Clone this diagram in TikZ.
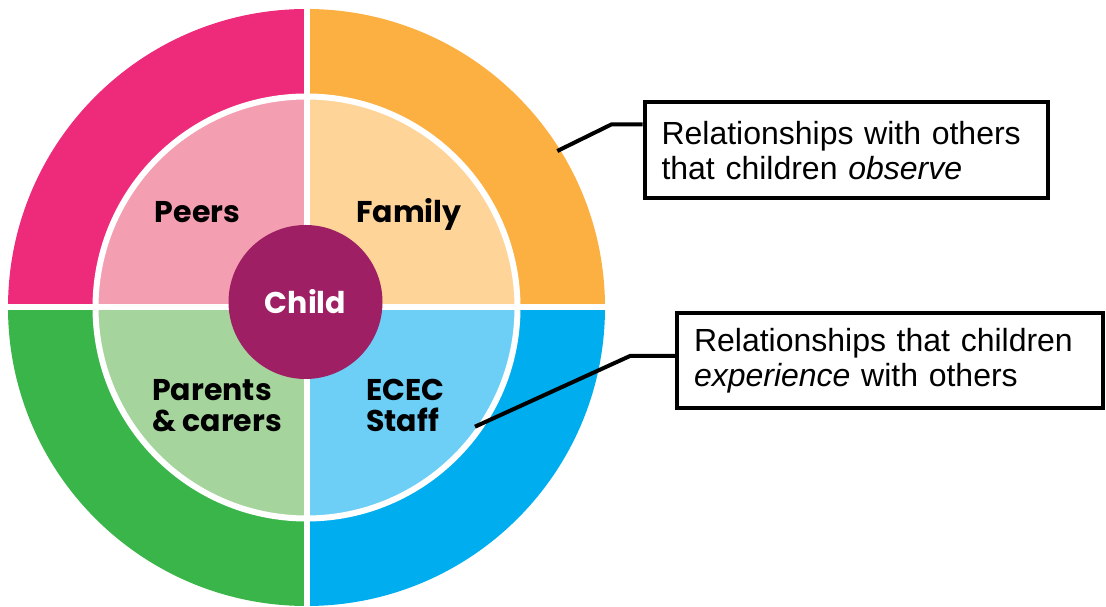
\documentclass[tikz,border=0pt]{standalone}
\usepackage{fontspec}
\setmainfont{Liberation Sans}
\newfontfamily\wheelfont{Poppins}
\definecolor{peersdark}{HTML}{EE2A7B}
\definecolor{peerslight}{HTML}{F49EB1}
\definecolor{familydark}{HTML}{FBB041}
\definecolor{familylight}{HTML}{FED499}
\definecolor{parentsdark}{HTML}{3AB54A}
\definecolor{parentslight}{HTML}{A6D49D}
\definecolor{staffdark}{HTML}{00AEEF}
\definecolor{stafflight}{HTML}{6DCFF6}
\definecolor{childcol}{HTML}{9E1F63}
\begin{document}
\begin{tikzpicture}[x=1pt, y=1pt,
		wheellabel/.style={font=\wheelfont\bfseries\fontsize{30}{31}\selectfont, align=left, inner sep=0pt},
		callout/.style={draw, line width=4pt, font=\fontsize{32}{35}\selectfont, align=left, inner xsep=17pt, inner ysep=0pt},
		leader/.style={line width=4pt, line join=round}]
		\useasboundingbox (0,0) rectangle (1106,607);
		% wheel
		\def \Rout{298.5}; %outer ring
		\def \Rin{211}; %inner ring
		\coordinate[] (origin) at (306.5, 299.5);
		\foreach \a/\c in {90/peersdark, 0/familydark, 180/parentsdark, 270/staffdark}
			\fill[\c] (origin) -- ++(\a:\Rout) arc[start angle=\a, delta angle=90, radius=\Rout] -- cycle;
		\foreach \a/\c in {90/peerslight, 0/familylight, 180/parentslight, 270/stafflight}
			\fill[\c] (origin) -- ++(\a:\Rin) arc[start angle=\a, delta angle=90, radius=\Rin] -- cycle;
		\draw[white, line width=6pt] (origin) circle[radius=\Rin];
		\draw[white, line width=6pt] (306.5, 0) -- (306.5, 607);
		\draw[white, line width=6pt] (0, 299.5) -- (610, 299.5);
		\node[circle, fill=childcol, minimum size=154pt, text=white, wheellabel] (child) at (305.5, 305) {Child};
		\node[wheellabel, anchor=base] (peers) at (197.5, 384) {Peers};
		\node[wheellabel, anchor=base] (family) at (409, 384) {Family};
		\node[wheellabel, anchor=base west] (parents) at (152, 175) {Parents\\\& carers};
		\node[wheellabel, anchor=base west] (staff) at (366, 175) {ECEC\\Staff};
		
		% callouts
		\node[callout, minimum height=95.5pt, text width=369.5pt] (observe) at (846.25, 456.75) {Relationships with others\\that children \textit{observe}};
		\node[callout, minimum height=94.5pt, text width=392pt] (experience) at (890, 246.25) {Relationships that children\\\textit{experience} with others};
		\coordinate[] (tip1) at (557.3, 456);
		\coordinate[] (bend1) at (611.7, 482.7);
		\draw[leader] (tip1) -- (bend1) -- (bend1 -| observe.west);
		\coordinate[] (tip2) at (475, 180.3);
		\coordinate[] (bend2) at (630, 251);
		\draw[leader] (tip2) -- (bend2) -- (bend2 -| experience.west);
	\end{tikzpicture}
\end{document}
